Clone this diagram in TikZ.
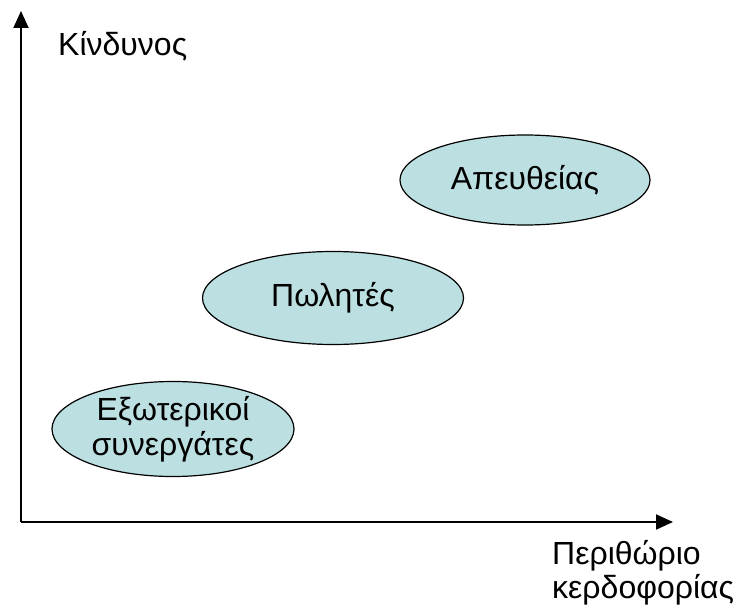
\documentclass[tikz,border=0pt]{standalone}
\usepackage{fontspec}
\setmainfont{Liberation Sans}
\usetikzlibrary{arrows.meta,shapes.geometric}
\definecolor{ellfill}{HTML}{BCE0E2}
\tikzset{
  axis/.style={line width=2pt,-{Triangle[length=17pt,width=15pt]}},
  oval/.style={ellipse,draw=black,line width=1.2pt,fill=ellfill,inner sep=0pt,align=center,font=\fontsize{32}{35}\selectfont},
  lbl/.style={font=\fontsize{32}{34}\selectfont,inner sep=0pt}
}
\begin{document}
\begin{tikzpicture}[x=1pt,y=-1pt]
\useasboundingbox (0,0) rectangle (740,610);
\coordinate (o) at (21,522);
\coordinate (ytop) at (21,11);
\coordinate (xend) at (673,522);
\draw[axis] (o) -- (ytop);
\draw[axis] (o) -- (xend);
\node[lbl,anchor=west] (ylab) at (58,46) {Κίνδυνος};
\node[lbl,anchor=west,align=left] (xlab) at (552,573) {Περιθώριο\\κερδοφορίας};
\node[oval,minimum width=250pt,minimum height=90pt] (a) at (525,180) {Απευθείας};
\node[oval,minimum width=261pt,minimum height=93pt] (b) at (333,298) {Πωλητές};
\node[oval,minimum width=242pt,minimum height=95pt] (c) at (173,429) {Εξωτερικοί\\συνεργάτες};
\end{tikzpicture}
\end{document}
